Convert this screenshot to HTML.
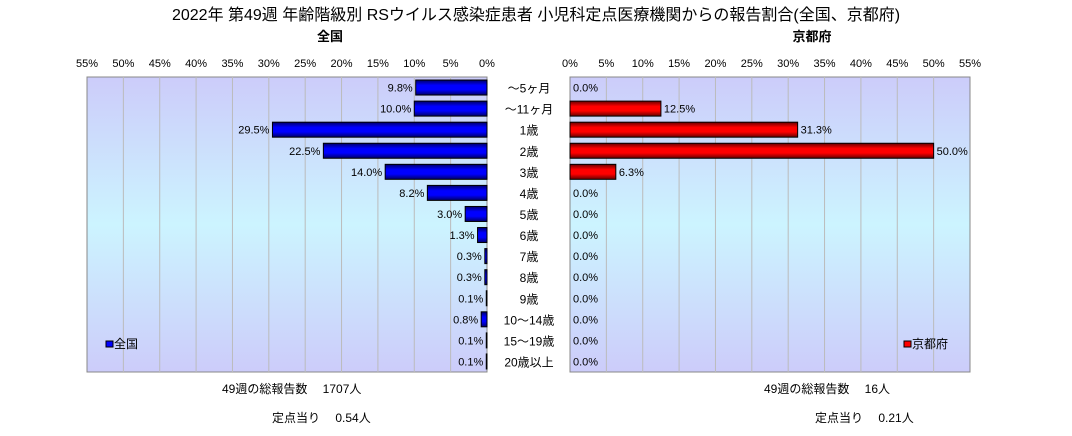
<!DOCTYPE html>
<html><head><meta charset="utf-8"><style>
body{margin:0;background:#fff;font-family:"Liberation Sans","Noto Sans CJK JP",sans-serif;}
svg text{font-family:"Liberation Sans","Noto Sans CJK JP",sans-serif;}
</style></head><body>
<svg id="c" width="1072" height="431" xmlns="http://www.w3.org/2000/svg">
<defs>
<linearGradient id="bg" x1="0" y1="0" x2="0" y2="1">
<stop offset="0" stop-color="#ccccfa"/><stop offset="0.5" stop-color="#ccf4ff"/><stop offset="1" stop-color="#ccccfa"/>
</linearGradient>
<linearGradient id="gb" x1="0" y1="0" x2="0" y2="1">
<stop offset="0" stop-color="#000066"/><stop offset="0.35" stop-color="#0000ff"/><stop offset="0.65" stop-color="#0000ff"/><stop offset="1" stop-color="#000066"/>
</linearGradient>
<linearGradient id="gr" x1="0" y1="0" x2="0" y2="1">
<stop offset="0" stop-color="#660000"/><stop offset="0.35" stop-color="#ff0000"/><stop offset="0.65" stop-color="#ff0000"/><stop offset="1" stop-color="#660000"/>
</linearGradient>
</defs>
<text x="536" y="20" text-anchor="middle" font-size="16">2022年 第49週 年齢階級別 RSウイルス感染症患者 小児科定点医療機関からの報告割合(全国、京都府)</text>
<text x="330" y="41" text-anchor="middle" font-size="13" font-weight="bold">全国</text>
<text x="812" y="41" text-anchor="middle" font-size="13" font-weight="bold">京都府</text>
<g id="g"></g>
<text x="222" y="393" font-size="12">49週の総報告数　 1707人</text>
<text x="272" y="422" font-size="12">定点当り　 0.54人</text>
<text x="764" y="393" font-size="12">49週の総報告数　 16人</text>
<text x="815" y="422" font-size="12">定点当り　 0.21人</text>
</svg>
<script>
const categories=["～5ヶ月","～11ヶ月","1歳","2歳","3歳","4歳","5歳","6歳","7歳","8歳","9歳","10～14歳","15～19歳","20歳以上"];
const national=[9.8,10.0,29.5,22.5,14.0,8.2,3.0,1.3,0.3,0.3,0.1,0.8,0.1,0.1];
const kyoto=[0.0,12.5,31.3,50.0,6.3,0,0,0,0,0,0,0,0,0];
const ticks=[0,5,10,15,20,25,30,35,40,45,50,55];
const NS='http://www.w3.org/2000/svg';
const gEl=document.getElementById('g');
function mk(t,a,txt){const el=document.createElementNS(NS,t);for(const k in a)el.setAttribute(k,a[k]);if(txt!=null)el.textContent=txt;gEl.appendChild(el);return el;}
const pTop=77,pBot=372,rowH=(pBot-pTop)/categories.length,bh=15;
const L0=487,R0=570,W=400,maxV=55;
const xL=v=>L0-v/maxV*W, xR=v=>R0+v/maxV*W;
const yc=i=>pTop+rowH*(i+0.5);
let e=mk('rect',{x:xL(maxV),y:pTop,width:W,height:pBot-pTop,fill:'url(#bg)',stroke:'#888'});


e=mk('rect',{x:R0,y:pTop,width:W,height:pBot-pTop,fill:'url(#bg)',stroke:'#888'});


ticks.forEach(t=>{
 if(t>0&&t<maxV){
  e=mk('line',{x1:xL(t),x2:xL(t),y1:pTop,y2:pBot,stroke:'#bbb'});
  
  
  e=mk('line',{x1:xR(t),x2:xR(t),y1:pTop,y2:pBot,stroke:'#bbb'});
  
  
 }
 e=mk('text',{x:xL(t),y:67,'text-anchor':'middle','font-size':11},t+'%');
 
 
 e=mk('text',{x:xR(t),y:67,'text-anchor':'middle','font-size':11},t+'%');
 
 
});
categories.forEach((c,i)=>{
 e=mk('text',{x:529,y:yc(i)+5,'text-anchor':'middle','font-size':12},c);
 
 
 const v=national[i];
 e=mk('rect',{x:xL(v),y:yc(i)-bh/2,width:L0-xL(v),height:bh,fill:'url(#gb)',stroke:'#000'});
 
 
 e=mk('text',{x:xL(v)-3,y:yc(i)+4,'text-anchor':'end','font-size':11},v.toFixed(1)+'%');
 
 
 const k=kyoto[i];
 if(k>0){
  e=mk('rect',{x:R0,y:yc(i)-bh/2,width:xR(k)-R0,height:bh,fill:'url(#gr)',stroke:'#000'});
  
  
 }
 e=mk('text',{x:xR(k)+3,y:yc(i)+4,'font-size':11},k.toFixed(1)+'%');
 
 
});
e=mk('rect',{x:106,y:341,width:7,height:6,fill:'#0000ff',stroke:'#000'});


e=mk('text',{x:114,y:348,'font-size':12},'全国');


e=mk('rect',{x:904,y:341,width:7,height:6,fill:'#ff0000',stroke:'#000'});


e=mk('text',{x:912,y:348,'font-size':12},'京都府');


</script>
</body></html>
